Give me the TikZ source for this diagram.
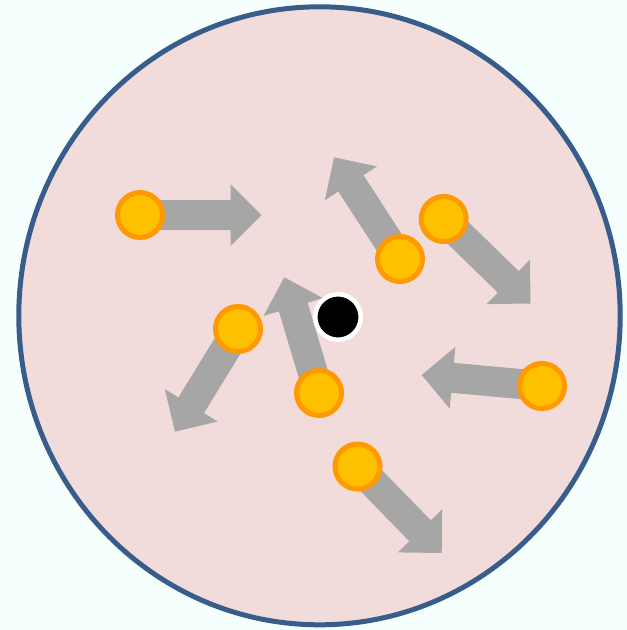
\documentclass[tikz,border=0pt]{standalone}
\usetikzlibrary{calc}
\definecolor{bgcol}{HTML}{F5FFFE}
\definecolor{cellfill}{HTML}{F2DCDB}
\definecolor{celledge}{HTML}{385D8A}
\definecolor{partfill}{HTML}{FFC000}
\definecolor{partedge}{HTML}{FF9900}
\definecolor{arrowgray}{HTML}{A6A6A6}
\tikzset{
  particle/.style={circle, fill=partfill, draw=partedge, line width=5pt, minimum size=45pt, inner sep=0pt},
  nucleus/.style={circle, fill=black, draw=white, line width=4.5pt, minimum size=45.5pt, inner sep=0pt},
  blockarrow/.style={fill=arrowgray, draw=none},
  cellbody/.style={fill=cellfill, draw=celledge, line width=5pt}
}
\newcommand{\motionarrow}[2]{%
  \fill[blockarrow]
    ($(#1)!15pt!90:(#2)$) --
    ($($(#2)!31pt!(#1)$)!15pt!-90:(#1)$) --
    ($($(#2)!31pt!(#1)$)!31pt!-90:(#1)$) --
    (#2) --
    ($($(#2)!31pt!(#1)$)!31pt!90:(#1)$) --
    ($($(#2)!31pt!(#1)$)!15pt!90:(#1)$) --
    ($(#1)!15pt!-90:(#2)$) -- cycle;}
\begin{document}
\begin{tikzpicture}[x=1pt,y=-1pt]
\useasboundingbox (0,0) rectangle (627,630);
\fill[bgcol] (0,0) rectangle (627,630);
\draw[cellbody] (319.5,315.8) ellipse [x radius=300.7, y radius=309];
% particle positions
\coordinate (c1) at (140,215);
\coordinate (c2) at (400,259);
\coordinate (c3) at (443.7,219);
\coordinate (c4) at (238,329);
\coordinate (c5) at (319,393);
\coordinate (c6) at (542,386);
\coordinate (c7) at (357.5,466.5);
% arrow tips
\coordinate (t1) at (261.5,215);
\coordinate (t2) at (334,157.3);
\coordinate (t3) at (530.5,303.5);
\coordinate (t4) at (175,431.7);
\coordinate (t5) at (284.3,277.3);
\coordinate (t6) at (421.7,375);
\coordinate (t7) at (441.7,553);
\motionarrow{c1}{t1}
\motionarrow{c2}{t2}
\motionarrow{c3}{t3}
\motionarrow{c4}{t4}
\motionarrow{c5}{t5}
\motionarrow{c6}{t6}
\motionarrow{c7}{t7}
\node[nucleus] (n) at (338,317) {};
\node[particle] (p1) at (c1) {};
\node[particle] (p2) at (c2) {};
\node[particle] (p3) at (c3) {};
\node[particle] (p4) at (c4) {};
\node[particle] (p5) at (c5) {};
\node[particle] (p6) at (c6) {};
\node[particle] (p7) at (c7) {};
\end{tikzpicture}
\end{document}
